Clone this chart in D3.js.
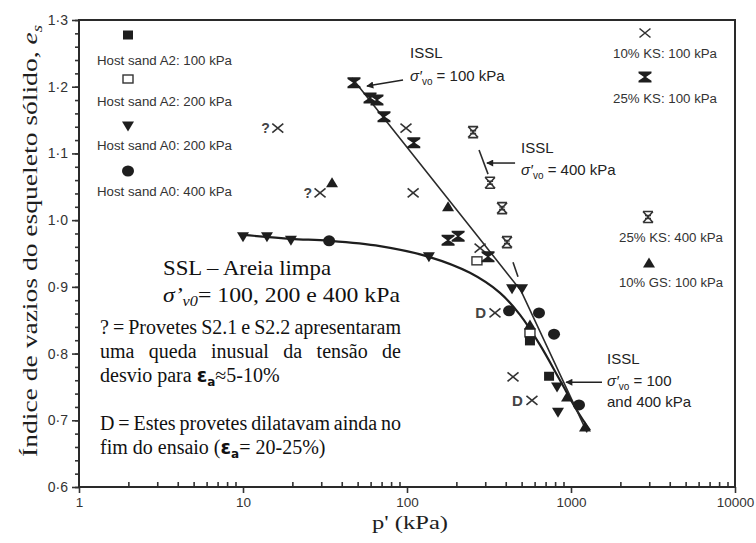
<!DOCTYPE html>
<html>
<head>
<meta charset="utf-8">
<script src="https://cdn.jsdelivr.net/npm/d3@7"></script>
<style>
  body { margin: 0; background: #fff; }
  svg { display: block; }
</style>
</head>
<body>
<svg id="chart" width="756" height="543"></svg>
<script>
// ---- data: p' (kPa) and skeleton void ratio e_s ----
const xTickValues = [1, 10, 100, 1000, 10000];
const xTickLabels = ["1", "10", "100", "1000", "10000"];
const yTickValues = [0.6, 0.7, 0.8, 0.9, 1.0, 1.1, 1.2, 1.3];
const yTickLabels = ["0·6", "0·7", "0·8", "0·9", "1·0", "1·1", "1·2", "1·3"];

// Host sand A2, 100 kPa (filled squares)
const hostA2_100 = [[562, 0.819], [735, 0.766]];
// Host sand A2, 200 kPa (open squares)
const hostA2_200 = [[267, 0.939], [562, 0.831]];
// Host sand A0, 200 kPa (filled inverted triangles)
const hostA0_200 = [[10, 0.975], [14, 0.975], [19.6, 0.970], [136, 0.945],
                    [437, 0.897], [503, 0.897], [822, 0.750], [833, 0.712]];
// Host sand A0, 400 kPa (filled circles)
const hostA0_400 = [[33.5, 0.969], [419, 0.864], [638, 0.861], [788, 0.829], [1119, 0.723]];
// 10% KS, 100 kPa (crosses)
const ks10_100 = [[16.3, 1.138], [29.5, 1.041], [98.6, 1.138], [109, 1.041],
                  [279, 0.958], [344, 0.861], [443, 0.765], [578, 0.730]];
// 25% KS, 100 kPa (hourglasses)
const ks25_100 = [[47.5, 1.206], [59.5, 1.183], [65.6, 1.180], [72.4, 1.155],
                  [110, 1.116], [178, 0.970], [205, 0.976], [312, 0.945]];
// 25% KS, 400 kPa (crossed hourglasses)
const ks25_400 = [[253, 1.132], [321, 1.056], [380, 1.018], [407, 0.967]];
// 10% GS, 100 kPa (filled triangles)
const gs10_100 = [[34.9, 1.056], [178, 1.020], [562, 0.843], [946, 0.735], [1217, 0.690]];

// flagged tests: "?" = unusual deviator drop, "D" = still dilating
const questionTests = [[16.3, 1.138], [29.5, 1.041]];
const dilatingTests = [[344, 0.861], [578, 0.730]];

// steady state line, clean sand
const sslClean = [[10, 0.978], [19.6, 0.972], [33.5, 0.969], [68.4, 0.961], [136, 0.945],
                  [242, 0.921], [369, 0.891], [489, 0.858], [647, 0.813], [857, 0.760],
                  [1104, 0.712], [1306, 0.685]];
// ISSL, sigma'vo = 100 kPa (continues as the common 100/400 kPa line)
const issl100 = [[46.2, 1.213], [496, 0.894], [1253, 0.682]];
// ISSL, sigma'vo = 400 kPa (visible pieces)
const issl400a = [[275, 1.105], [312, 1.069]];
const issl400b = [[443, 0.937], [475, 0.915]];

// annotation arrows: [tail, tip] in (p', e_s)
const arrow100 = [[94.6, 1.210], [57.0, 1.201]];
const arrow400 = [[456, 1.0856], [307, 1.0856]];
const arrowBoth = [[1545, 0.757], [933, 0.757]];

// ---- layout ----
const W = 756, H = 543;
const plotL = 79, plotR = 735, plotT = 20, plotB = 487;
const ink = "#1e1e1e";
const sans = "'Liberation Sans', Arial, sans-serif";
const serif = "'Liberation Serif', 'Times New Roman', serif";

const svg = d3.select("#chart");
svg.append("rect").attr("width", W).attr("height", H).attr("fill", "#fff");

const x = d3.scaleLog().domain([1, 10000]).range([plotL, plotR]);
const y = d3.scaleLinear().domain([0.6, 1.3]).range([plotB, plotT]);

// ---- axes ----
const xMinor = [];
for (let d = 1; d < 10000; d *= 10) for (let k = 2; k <= 9; k++) xMinor.push(d * k);
const yMinor = d3.range(0.6, 1.3001, 0.02).map(v => +v.toFixed(2));

const gx = svg.append("g").attr("transform", `translate(0,${plotB})`);
gx.call(d3.axisBottom(x).tickValues(xMinor).tickSizeInner(-5).tickSizeOuter(0).tickFormat(""));
gx.append("g").call(d3.axisBottom(x).tickValues(xTickValues).tickSizeInner(6).tickSizeOuter(0)
  .tickFormat((d, i) => xTickLabels[i]).tickPadding(4));
gx.selectAll("path.domain").remove();
gx.selectAll("line").attr("stroke", "#333").attr("stroke-width", 1.6);
gx.selectAll("text").attr("font-family", sans).attr("font-size", 13.5).attr("fill", "#333");

const gy = svg.append("g").attr("transform", `translate(${plotL},0)`);
gy.call(d3.axisLeft(y).tickValues(yMinor).tickSizeInner(4).tickSizeOuter(0).tickFormat(""));
gy.append("g").call(d3.axisLeft(y).tickValues(yTickValues).tickSizeInner(7).tickSizeOuter(0)
  .tickFormat((d, i) => yTickLabels[i]).tickPadding(4));
gy.selectAll("path.domain").remove();
gy.selectAll("line").attr("stroke", "#333").attr("stroke-width", 1.6);
gy.selectAll("text").attr("font-family", sans).attr("font-size", 14).attr("fill", "#333");

// plot frame
svg.append("rect").attr("x", plotL).attr("y", plotT).attr("width", plotR - plotL).attr("height", plotB - plotT)
  .attr("fill", "none").attr("stroke", "#2a2a2a").attr("stroke-width", 2);

// axis titles
svg.append("text").attr("x", 410).attr("y", 529).attr("text-anchor", "middle")
  .attr("font-family", serif).attr("font-size", 19).attr("fill", ink)
  .attr("textLength", 76).attr("lengthAdjust", "spacingAndGlyphs").text("p' (kPa)");

const yTitle = svg.append("text").attr("transform", "translate(37,241) rotate(-90)")
  .attr("text-anchor", "middle").attr("font-family", serif).attr("font-size", 22).attr("fill", ink)
  .attr("textLength", 432).attr("lengthAdjust", "spacingAndGlyphs");
yTitle.append("tspan").text("Índice de vazios do esqueleto sólido, ");
yTitle.append("tspan").attr("font-style", "italic").text("e");
yTitle.append("tspan").attr("font-style", "italic").attr("font-size", 15).attr("dy", 5).text("s");

// ---- lines ----
const curved = d3.line().x(d => x(d[0])).y(d => y(d[1])).curve(d3.curveCatmullRom.alpha(0.5));
svg.append("path").datum(sslClean).attr("d", curved)
  .attr("fill", "none").attr("stroke", ink).attr("stroke-width", 2.2);
const straight = d3.line().x(d => x(d[0])).y(d => y(d[1]));
[issl100, issl400a, issl400b].forEach(seg => {
  svg.append("path").datum(seg).attr("d", straight).attr("fill", "none")
    .attr("stroke", "#2b2b2b").attr("stroke-width", 1.6);
});

// ---- symbols ----
function drawSymbol(g, type, cx, cy) {
  const s = g.append("g").attr("transform", `translate(${cx},${cy})`);
  switch (type) {
    case "square":
      s.append("rect").attr("x", -5).attr("y", -4.5).attr("width", 10).attr("height", 9).attr("fill", ink); break;
    case "openSquare":
      s.append("rect").attr("x", -5).attr("y", -4).attr("width", 10).attr("height", 8)
        .attr("fill", "#fff").attr("stroke", "#333").attr("stroke-width", 1.4); break;
    case "triDown":
      s.append("path").attr("d", "M-6,-4.5L6,-4.5L0,5.5Z").attr("fill", ink); break;
    case "triUp":
      s.append("path").attr("d", "M-6,4.5L6,4.5L0,-5.5Z").attr("fill", ink); break;
    case "circle":
      s.append("ellipse").attr("rx", 6).attr("ry", 5.5).attr("fill", ink); break;
    case "cross":
      s.append("path").attr("d", "M-5.5,-4.5L5.5,4.5M-5.5,4.5L5.5,-4.5")
        .attr("stroke", "#333").attr("stroke-width", 1.6).attr("fill", "none"); break;
    case "hourglass":
      s.append("path").attr("d", "M-6.5,-5.5H6.5V-3.8L1,0L6.5,3.8V5.5H-6.5V3.8L-1,0L-6.5,-3.8Z").attr("fill", ink); break;
    case "hourglassX":
      s.append("path").attr("d", "M-5,-5.5H5M-5,5.5H5M-5,-5.5L5,5.5M5,-5.5L-5,5.5M-3,-1.5H3M-3,1.5H3")
        .attr("stroke", "#333").attr("stroke-width", 1.6).attr("fill", "none"); break;
  }
}

const series = [
  { data: ks10_100, type: "cross" },
  { data: hostA2_200, type: "openSquare" },
  { data: hostA2_100, type: "square" },
  { data: ks25_400, type: "hourglassX" },
  { data: ks25_100, type: "hourglass" },
  { data: gs10_100, type: "triUp" },
  { data: hostA0_200, type: "triDown" },
  { data: hostA0_400, type: "circle" }
];
const gm = svg.append("g");
series.forEach(sr => sr.data.forEach(d => drawSymbol(gm, sr.type, x(d[0]), y(d[1]))));

// test flags next to their points
questionTests.forEach(d => {
  svg.append("text").attr("x", x(d[0]) - 8).attr("y", y(d[1]) + 5).attr("text-anchor", "end")
    .attr("font-family", sans).attr("font-weight", "bold").attr("font-size", 14).attr("fill", "#444").text("?");
});
dilatingTests.forEach(d => {
  svg.append("text").attr("x", x(d[0]) - 9).attr("y", y(d[1]) + 5.5).attr("text-anchor", "end")
    .attr("font-family", sans).attr("font-weight", "bold").attr("font-size", 15).attr("fill", "#444").text("D");
});

// ---- legends ----
const legendLeft = [
  { type: "square", sy: 35, ty: 60, label: "Host sand A2: 100 kPa" },
  { type: "openSquare", sy: 79, ty: 101, label: "Host sand A2: 200 kPa" },
  { type: "triDown", sy: 126, ty: 145, label: "Host sand A0: 200 kPa" },
  { type: "circle", sy: 171, ty: 191, label: "Host sand A0: 400 kPa" }
];
legendLeft.forEach(l => {
  drawSymbol(svg, l.type, 128, l.sy);
  svg.append("text").attr("x", 164.5).attr("y", l.ty + 4.5).attr("text-anchor", "middle")
    .attr("font-family", sans).attr("font-size", 12.5).attr("fill", "#333")
    .attr("textLength", 135).attr("lengthAdjust", "spacingAndGlyphs").text(l.label);
});
const legendRight = [
  { type: "cross", sx: 645, sy: 33, tx: 665, ty: 53, label: "10% KS: 100 kPa" },
  { type: "hourglass", sx: 645, sy: 77, tx: 665, ty: 98, label: "25% KS: 100 kPa" },
  { type: "hourglassX", sx: 648, sy: 217, tx: 671, ty: 237, label: "25% KS: 400 kPa" },
  { type: "triUp", sx: 649, sy: 263, tx: 671, ty: 282, label: "10% GS: 100 kPa" }
];
legendRight.forEach(l => {
  drawSymbol(svg, l.type, l.sx, l.sy);
  svg.append("text").attr("x", l.tx).attr("y", l.ty + 4.5).attr("text-anchor", "middle")
    .attr("font-family", sans).attr("font-size", 12.5).attr("fill", "#333")
    .attr("textLength", 104).attr("lengthAdjust", "spacingAndGlyphs").text(l.label);
});

// ---- ISSL annotations ----
svg.append("defs").append("marker").attr("id", "head").attr("viewBox", "0 0 10 10")
  .attr("refX", 9).attr("refY", 5).attr("markerWidth", 9).attr("markerHeight", 7)
  .attr("markerUnits", "userSpaceOnUse").attr("orient", "auto")
  .append("path").attr("d", "M0,0L10,5L0,10Z").attr("fill", "#222");

function arrow(a) {
  svg.append("line").attr("x1", x(a[0][0])).attr("y1", y(a[0][1]))
    .attr("x2", x(a[1][0])).attr("y2", y(a[1][1]))
    .attr("stroke", "#222").attr("stroke-width", 1.5).attr("marker-end", "url(#head)");
}
function sigmaLabel(tx, ty, rest) {
  const t = svg.append("text").attr("x", tx).attr("y", ty)
    .attr("font-family", sans).attr("font-size", 15).attr("fill", "#222");
  t.append("tspan").attr("font-style", "italic").text("σ′");
  t.append("tspan").attr("font-size", 10).attr("dy", 4).text("vo");
  t.append("tspan").attr("dy", -4).text(rest);
}
function plainLabel(tx, ty, s) {
  svg.append("text").attr("x", tx).attr("y", ty).attr("font-family", sans)
    .attr("font-size", 15).attr("fill", "#222").text(s);
}
arrow(arrow100);
plainLabel(x(arrow100[0][0]) + 7, y(arrow100[0][1]) - 22, "ISSL");
sigmaLabel(x(arrow100[0][0]) + 7, y(arrow100[0][1]) + 1, " = 100 kPa");

arrow(arrow400);
plainLabel(x(arrow400[0][0]) + 6, y(arrow400[0][1]) - 10, "ISSL");
sigmaLabel(x(arrow400[0][0]) + 6, y(arrow400[0][1]) + 12, " = 400 kPa");

arrow(arrowBoth);
plainLabel(x(arrowBoth[0][0]) + 5, y(arrowBoth[0][1]) - 18, "ISSL");
sigmaLabel(x(arrowBoth[0][0]) + 5, y(arrowBoth[0][1]) + 4, " = 100");
plainLabel(x(arrowBoth[0][0]) + 5, y(arrowBoth[0][1]) + 25, "and 400 kPa");

// ---- notes (serif text block) ----
svg.append("text").attr("x", 163).attr("y", 275).attr("font-family", serif)
  .attr("font-size", 22).attr("fill", "#111").attr("textLength", 168).attr("lengthAdjust", "spacingAndGlyphs")
  .text("SSL – Areia limpa");
const t2 = svg.append("text").attr("x", 163).attr("y", 302).attr("font-family", serif)
  .attr("font-size", 22).attr("fill", "#111").attr("textLength", 237).attr("lengthAdjust", "spacingAndGlyphs");
t2.append("tspan").attr("font-style", "italic").text("σ’");
t2.append("tspan").attr("font-style", "italic").attr("font-size", 15).attr("dy", 4).text("v0");
t2.append("tspan").attr("dy", -4).text("= 100, 200 e 400 kPa");

// justified line: words spread to fill the column width
function justified(str, x0, yb, width) {
  const words = str.split(" ");
  const g = svg.append("g");
  const nodes = words.map(w => g.append("text").attr("y", yb).attr("font-family", serif)
    .attr("font-size", 20).attr("fill", "#111").text(w));
  const widths = nodes.map(n => n.node().getComputedTextLength());
  const gap = (width - d3.sum(widths)) / (words.length - 1);
  let cx = x0;
  nodes.forEach((n, i) => { n.attr("x", cx); cx += widths[i] + gap; });
}
justified("? = Provetes S2.1 e S2.2 apresentaram", 100, 334, 301);
justified("uma queda inusual da tensão de", 100, 358, 301);
justified("D = Estes provetes dilatavam ainda no", 100, 430, 301);

function epsLine(prefix, suffix, yb) {
  const t = svg.append("text").attr("x", 100).attr("y", yb).attr("font-family", serif)
    .attr("font-size", 20).attr("fill", "#111");
  t.append("tspan").text(prefix);
  t.append("tspan").attr("font-family", "'DejaVu Sans', sans-serif").attr("font-weight", "bold")
    .attr("font-size", 19).text("ε");
  t.append("tspan").attr("font-family", "'DejaVu Sans', sans-serif").attr("font-weight", "bold")
    .attr("font-size", 12).attr("dy", 4).text("a");
  t.append("tspan").attr("dy", -4).text(suffix);
}
epsLine("desvio para ", "≈5-10%", 382);
epsLine("fim do ensaio (", "= 20-25%)", 454);
</script>
</body>
</html>
